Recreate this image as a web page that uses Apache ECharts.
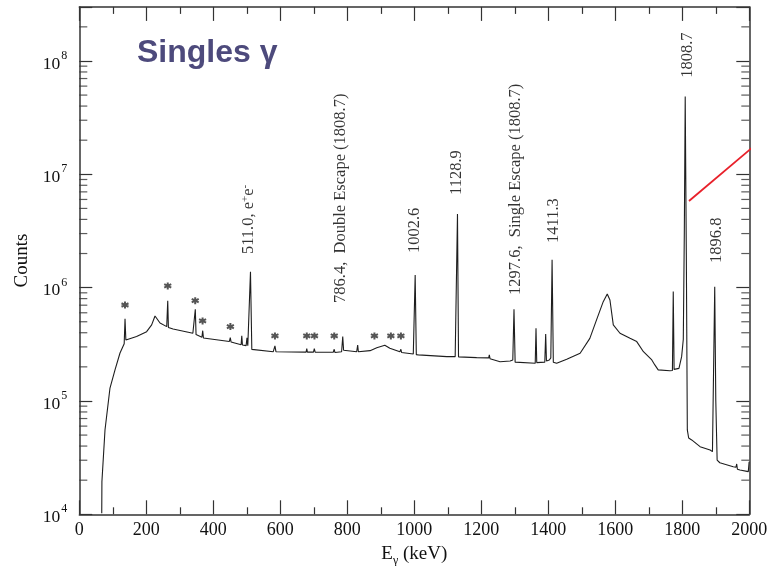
<!DOCTYPE html>
<html><head><meta charset="utf-8">
<script src="https://cdn.jsdelivr.net/npm/echarts@6/dist/echarts.min.js"></script>
<style>html,body{margin:0;padding:0;background:#fff}#c{width:769px;height:566px}</style>
</head><body><div id="c"></div>
<script>
// Spectrum: [energy keV, counts]
const spectrum = [
[67,1.02e4],[67.5,1.94e4],[76.7,5.55e4],[91.6,1.30e5],[106.6,1.88e5],[121.5,2.65e5],[134,3.20e5],[136.5,5.30e5],[139,3.45e5],[141,3.52e5],
[171,3.70e5],[201,4.09e5],[216,4.69e5],[226,5.62e5],[241,4.87e5],[261,4.53e5],[262.5,4.50e5],[264,7.64e5],[266,4.45e5],[280,4.31e5],
[339,3.96e5],[344,3.92e5],[346.3,6.44e5],[348.5,3.85e5],[366,3.65e5],[368.4,4.17e5],[370.5,3.60e5],[375,3.57e5],[448,3.35e5],[450.7,3.62e5],
[453,3.32e5],[483,3.13e5],[485,3.75e5],[487,3.12e5],[498,3.08e5],[500.5,3.60e5],[503,3.07e5],[507,3.10e5],[511,1.38e6],[515,2.85e5],
[518,2.82e5],[579,2.72e5],[584,3.06e5],[587,2.72e5],[677,2.70e5],[679,2.90e5],[681,2.70e5],[699,2.70e5],[701.5,2.90e5],[704,2.70e5],
[758,2.69e5],[761,2.86e5],[763,2.68e5],[783,2.72e5],[786.4,3.70e5],[789,2.80e5],[793,2.78e5],[828,2.72e5],[831,3.12e5],[833,2.72e5],
[868,2.78e5],[888,2.95e5],[912,3.10e5],[927,2.92e5],[957,2.72e5],[960,2.86e5],[962,2.68e5],[997,2.60e5],[1002.6,1.29e6],[1006,2.56e5],
[1012,2.55e5],[1097,2.46e5],[1122,2.46e5],[1125,2.50e5],[1128.9,4.47e6],[1132,2.45e5],[1136,2.38e5],[1186,2.41e5],[1222,2.40e5],[1224,2.55e5],
[1226,2.36e5],[1256,2.22e5],[1286,2.25e5],[1294,2.30e5],[1297.6,6.44e5],[1301,2.20e5],[1306,2.15e5],[1361,2.15e5],[1363.3,4.38e5],[1365.5,2.18e5],
[1389.5,2.20e5],[1392.2,3.90e5],[1394.5,2.25e5],[1403,2.30e5],[1407.5,2.40e5],[1411.3,1.76e6],[1415,2.20e5],[1425,2.15e5],[1455,2.33e5],[1495,2.64e5],
[1524,3.57e5],[1544,5.19e5],[1564,7.52e5],[1576,8.79e5],[1584,7.78e5],[1594,4.69e5],[1614,3.96e5],[1644,3.57e5],[1664,3.34e5],[1684,2.72e5],
[1709,2.30e5],[1718,2.08e5],[1728,1.88e5],[1763,1.85e5],[1770.5,1.86e5],[1773,9.23e5],[1775.5,1.90e5],[1790,1.94e5],[1798,2.46e5],[1803,3.50e5],
[1806,3.0e6],[1808.7,4.85e7],[1812,2.0e6],[1815,5.55e4],[1819,4.71e4],[1828,4.53e4],[1853,3.95e4],[1883,3.69e4],[1890,3.57e4],[1893.5,3.70e4],
[1896.8,1.02e6],[1900,1.0e5],[1904,3.01e4],[1912,2.85e4],[1952,2.63e4],[1960,2.60e4],[1962.4,2.78e4],[1964.5,2.50e4],[1972,2.46e4],[1997,2.38e4],
[1999.5,2.91e4]
];
// Peak annotations (text, anchor energy, anchor counts at bottom of text)
const peakLabelText = ['511.0, e{s|+}e{s|-}','786.4,  Double Escape (1808.7)','1002.6','1128.9','1297.6,  Single Escape (1808.7)','1411.3','1808.7','1896.8'];
const peakLabelE = [506, 780, 1002, 1127, 1303, 1417, 1817, 1903];
const peakLabelC = [1.98e6, 7.33e5, 2.02e6, 6.58e6, 8.63e5, 2.48e6, 7.10e7, 1.65e6];
// Asterisk marks
const asterisks = [[136.4,7.03e5],[264,1.035e6],[346,7.67e5],[368,5.08e5],[451,4.53e5],[584,3.75e5],[679,3.75e5],[702,3.75e5],[761,3.75e5],[881,3.75e5],[930,3.75e5],[960,3.75e5]];
// Red pointer line
const pointerLine = [[1820,5.82e6],[2060,2.31e7]];
// Axis ticks
const xTickLabels = ['0','200','400','600','800','1000','1200','1400','1600','1800','2000'];
const xMin = 0, xMax = 2000;
const yMin = 1e4, yTop = 3e8;
const yMinor = [];
for (let p = 4; p <= 8; p++) for (let m = 2; m <= 9; m++) { const v = m * Math.pow(10, p); if (v < yTop) yMinor.push(v); }

const serif = "'Liberation Serif','Times New Roman',serif";
const axisColor = '#333';
const lineStyle = {color: axisColor, width: 1.5};
const tickStyle = {color: axisColor, width: 1.2};

const chart = echarts.init(document.getElementById('c'), null, {renderer: 'canvas'});
const xBase = {type: 'value', min: xMin, max: xMax, interval: 200, splitLine: {show: false}};
const yBase = {type: 'log', logBase: 10, min: yMin, max: yTop, splitLine: {show: false}};
chart.setOption({
  animation: false,
  backgroundColor: '#fff',
  grid: {left: 79.3, right: 19.7, top: 6.9, bottom: 51.7, containLabel: false, outerBoundsMode: 'none'},
  xAxis: [
    Object.assign({}, xBase, {
      position: 'bottom',
      axisLine: {onZero: false, lineStyle: lineStyle},
      axisTick: {inside: true, length: 14, lineStyle: tickStyle},
      minorTick: {show: true, splitNumber: 2, length: 7, lineStyle: tickStyle},
      axisLabel: {margin: 7, fontSize: 18, fontFamily: serif, color: '#111',
        formatter: v => xTickLabels[Math.round(v / 200)]},
      name: '{m|E}{sub|γ}{m| (keV)}', nameLocation: 'middle', nameGap: 22,
      nameTextStyle: {fontSize: 19, fontFamily: serif, color: '#111',
        rich: {m: {fontSize: 19, fontFamily: serif, color: '#111'},
               sub: {fontSize: 12, fontFamily: serif, color: '#111', padding: [14, 0, 0, 0]}}}
    }),
    Object.assign({}, xBase, {
      position: 'top',
      axisLine: {onZero: false, lineStyle: lineStyle},
      axisTick: {inside: true, length: 14, lineStyle: tickStyle},
      minorTick: {show: true, splitNumber: 2, length: 7, lineStyle: tickStyle},
      axisLabel: {show: false}
    })
  ],
  yAxis: [
    Object.assign({}, yBase, {
      position: 'left',
      axisLine: {onZero: false, lineStyle: lineStyle},
      axisTick: {inside: true, length: 13, lineStyle: tickStyle},
      axisLabel: {margin: 12,
        formatter: v => { const e = Math.log10(v); return Math.abs(e - Math.round(e)) < 1e-6 ? '{b|10}{s|' + Math.round(e) + '}' : ''; },
        rich: {b: {fontSize: 17.5, fontFamily: serif, color: '#111', padding: [6, 0, 0, 0]},
               s: {fontSize: 12, fontFamily: serif, color: '#111', padding: [0, 0, 10, 1]}}},
      name: 'Counts', nameLocation: 'middle', nameGap: 48, nameRotate: 90,
      nameTextStyle: {fontSize: 19, fontFamily: serif, color: '#111'}
    }),
    Object.assign({}, yBase, {
      position: 'right',
      axisLine: {onZero: false, lineStyle: lineStyle},
      axisTick: {inside: true, length: 13, lineStyle: tickStyle},
      axisLabel: {show: false}
    })
  ],
  graphic: [{
    type: 'text', x: 137, y: 53.5,
    style: {text: 'Singles γ', fontSize: 32, fontWeight: 'bold', fontFamily: "'Liberation Sans',Arial,sans-serif",
            fill: '#4d4a7c', align: 'left', verticalAlign: 'middle'}
  }],
  series: [
    {type: 'line', xAxisIndex: 0, yAxisIndex: 0, data: spectrum, symbol: 'none', silent: true,
     lineStyle: {color: '#1e1e1e', width: 1.1}},
    {type: 'scatter', xAxisIndex: 0, yAxisIndex: 0, data: asterisks, silent: true,
     symbol: 'path://M0,-10L0,10M-8.66,-5L8.66,5M-8.66,5L8.66,-5', symbolSize: 7,
     itemStyle: {color: 'rgba(0,0,0,0)', borderColor: '#2a2a2a', borderWidth: 2}},
    {type: 'scatter', xAxisIndex: 0, yAxisIndex: 0, silent: true, symbolSize: 1,
     itemStyle: {color: 'rgba(0,0,0,0)'},
     data: peakLabelText.map((t, i) => ({value: [peakLabelE[i], peakLabelC[i]], label: {formatter: t}})),
     label: {show: true, position: 'inside', align: 'left', verticalAlign: 'middle', rotate: 90,
             fontSize: 16.5, fontFamily: serif, color: '#000',
             rich: {s: {fontSize: 11, fontFamily: serif, color: '#000', padding: [0, 0, 8, 0]}}}},
    // minor log ticks (left and right frame), placed through the axes' scales
    {type: 'scatter', xAxisIndex: 0, yAxisIndex: 0, silent: true, clip: false,
     data: yMinor.map(v => [xMin, v]), symbol: 'rect', symbolSize: [8, 1.2], symbolOffset: [4, 0],
     itemStyle: {color: axisColor}},
    {type: 'scatter', xAxisIndex: 0, yAxisIndex: 0, silent: true, clip: false,
     data: yMinor.map(v => [xMax, v]), symbol: 'rect', symbolSize: [8, 1.2], symbolOffset: [-4, 0],
     itemStyle: {color: axisColor}},
    {type: 'line', xAxisIndex: 0, yAxisIndex: 0, data: pointerLine, clip: false, symbol: 'none', silent: true,
     lineStyle: {color: '#e8202a', width: 1.8}}
  ]
});
</script></body></html>
